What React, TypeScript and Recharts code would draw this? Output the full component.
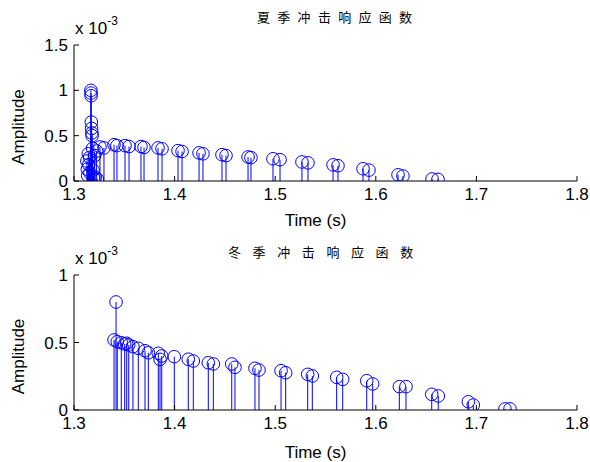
import React from 'react';
import { ComposedChart, Scatter, ErrorBar, XAxis, YAxis } from 'recharts';

// amplitudes are in units of 1e-3 (axis multiplier shown top-left)
const xTicks = [1.3, 1.4, 1.5, 1.6, 1.7, 1.8];
const topYTicks = [0, 0.5, 1, 1.5];
const bottomYTicks = [0, 0.5, 1];

const topTitle = '夏季冲击响应函数';
const bottomTitle = '冬季冲击响应函数';

const topTime = [
  1.3128, 1.3132, 1.3136, 1.3142, 1.3146, 1.3155, 1.3158, 1.3168, 1.3169, 1.317, 1.3172,
  1.3175, 1.3178, 1.318, 1.3185, 1.319, 1.3195, 1.3205, 1.3212, 1.3225, 1.3232,
  1.3258, 1.3298, 1.3398, 1.3427, 1.3507, 1.3547, 1.3666, 1.3696, 1.3835, 1.3875,
  1.4034, 1.4074, 1.4243, 1.4282, 1.4471, 1.4511, 1.473, 1.4759, 1.4978, 1.5048,
  1.5266, 1.5326, 1.5575, 1.5624, 1.5873, 1.5932, 1.6221, 1.627, 1.6559, 1.6618,
];
const topAmp = [
  0.22, 0.13, 0.06, 0.3, 0.18, 0.26, 0.09, 1.0, 0.97, 0.94, 0.65,
  0.58, 0.53, 0.5, 0.36, 0.12, 0.03, 0.28, 0.04, 0.33, 0.02,
  0.375, 0.365, 0.4, 0.39, 0.39, 0.38, 0.38, 0.37, 0.365, 0.355,
  0.335, 0.325, 0.31, 0.3, 0.29, 0.28, 0.265, 0.258, 0.245, 0.235,
  0.21, 0.2, 0.178, 0.168, 0.135, 0.12, 0.068, 0.055, 0.022, 0.018,
];

const bottomTime = [
  1.3398, 1.3418, 1.343, 1.347, 1.3504, 1.3524, 1.3544, 1.3586, 1.3639, 1.3706, 1.3739,
  1.3838, 1.3872, 1.3855, 1.3997, 1.4136, 1.4186, 1.4335, 1.4385, 1.4568, 1.46,
  1.4799, 1.4839, 1.5058, 1.5104, 1.5323, 1.5369, 1.5611, 1.5671, 1.591, 1.5969,
  1.6234, 1.63, 1.6556, 1.6621, 1.692, 1.6969, 1.7284, 1.7334,
];
const bottomAmp = [
  0.519, 0.8, 0.506, 0.498, 0.489, 0.494, 0.481, 0.469, 0.457, 0.439, 0.424,
  0.42, 0.4, 0.375, 0.395, 0.376, 0.363, 0.35, 0.341, 0.341, 0.316,
  0.309, 0.296, 0.291, 0.276, 0.264, 0.252, 0.242, 0.227, 0.217, 0.193,
  0.173, 0.173, 0.116, 0.104, 0.061, 0.037, 0.008, 0.008,
];

const BLUE = '#0000ff';
const FONT = '"Liberation Sans", Arial, sans-serif';

const toRows = (time: number[], amp: number[]) =>
  time.map((t, i) => ({ t, a: amp[i], stem: [amp[i], 0] }));

const StemHead = (props: any) => (
  <circle cx={props.cx} cy={props.cy} r={6.3} fill="none" stroke={BLUE} strokeWidth={1} />
);

const tickStyle = { fill: '#000', fontSize: 17, fontFamily: FONT };

interface StemPanelProps {
  rows: { t: number; a: number; stem: number[] }[];
  yMax: number;
  yTicks: number[];
  marginTop: number;
  xAxisHeight: number;
  labelDy: number;
}

const StemPanel: React.FC<StemPanelProps> = ({ rows, yMax, yTicks, marginTop, xAxisHeight, labelDy }) => (
  <ComposedChart width={590} height={231} data={rows} margin={{ top: marginTop, right: 13, bottom: 0, left: 0 }}>
    <XAxis
      dataKey="t"
      type="number"
      domain={[1.3, 1.8]}
      ticks={xTicks}
      allowDataOverflow
      height={xAxisHeight}
      tickSize={-5}
      tickMargin={12}
      tick={tickStyle}
      axisLine={{ stroke: '#000' }}
      tickLine={{ stroke: '#000' }}
      label={{ value: 'Time (s)', position: 'center', dx: -10, dy: labelDy, fill: '#000', fontSize: 17, fontFamily: FONT }}
    />
    <XAxis
      xAxisId="top"
      orientation="top"
      type="number"
      domain={[1.3, 1.8]}
      ticks={xTicks}
      allowDataOverflow
      height={0}
      tickSize={-5}
      tick={false}
      axisLine={{ stroke: '#000' }}
      tickLine={{ stroke: '#000' }}
    />
    <YAxis
      type="number"
      domain={[0, yMax]}
      ticks={yTicks}
      allowDataOverflow
      width={74}
      tickSize={-5}
      tickMargin={11}
      tick={tickStyle}
      axisLine={{ stroke: '#000' }}
      tickLine={{ stroke: '#000' }}
      label={{ value: 'Amplitude', angle: -90, position: 'center', dx: -19, dy: 14, fill: '#000', fontSize: 17, fontFamily: FONT }}
    />
    <YAxis
      yAxisId="right"
      orientation="right"
      type="number"
      domain={[0, yMax]}
      ticks={yTicks}
      allowDataOverflow
      width={0}
      tickSize={-5}
      tick={false}
      axisLine={{ stroke: '#000' }}
      tickLine={{ stroke: '#000' }}
    />
    <Scatter dataKey="a" shape={StemHead} isAnimationActive={false}>
      <ErrorBar dataKey="stem" direction="y" width={0} stroke={BLUE} strokeWidth={1} isAnimationActive={false} />
    </Scatter>
  </ComposedChart>
);

const Multiplier: React.FC<{ top: number }> = ({ top }) => (
  <div style={{ position: 'absolute', left: 75, top, fontFamily: FONT, fontSize: 17, color: '#000', whiteSpace: 'nowrap' }}>
    x 10<span style={{ position: 'relative', top: -9, fontSize: 12 }}>-3</span>
  </div>
);

const Title: React.FC<{ text: string; left: number; top: number; spacing: number }> = ({ text, left, top, spacing }) => (
  <div
    style={{
      position: 'absolute',
      left,
      top,
      fontFamily: '"Noto Sans CJK SC", sans-serif',
      fontSize: 13,
      letterSpacing: spacing,
      color: '#000',
      whiteSpace: 'nowrap',
      lineHeight: '16px',
    }}
  >
    {text}
  </div>
);

export default function App() {
  return (
    <div style={{ position: 'absolute', left: 0, top: 0, width: 590, height: 462, background: '#fff' }}>
      <div style={{ position: 'absolute', left: 0, top: 0 }}>
        <StemPanel rows={toRows(topTime, topAmp)} yMax={1.5} yTicks={topYTicks} marginTop={45} xAxisHeight={50} labelDy={14} />
      </div>
      <div style={{ position: 'absolute', left: 0, top: 231 }}>
        <StemPanel rows={toRows(bottomTime, bottomAmp)} yMax={1} yTicks={bottomYTicks} marginTop={44} xAxisHeight={52} labelDy={16} />
      </div>
      <Title text={topTitle} left={257} top={9} spacing={7.3} />
      <Title text={bottomTitle} left={228} top={244} spacing={11.6} />
      <Multiplier top={19} />
      <Multiplier top={249} />
    </div>
  );
}
